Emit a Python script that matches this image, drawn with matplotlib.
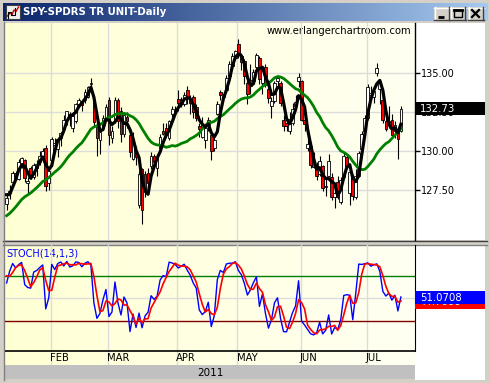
import numpy as np
import pandas as pd
import matplotlib
matplotlib.use('Agg')
import matplotlib.pyplot as plt
import matplotlib.transforms as mtransforms
from matplotlib.patches import Rectangle
from matplotlib.colors import LinearSegmentedColormap

# sessions before the visible window (Dec 13 - Jan 7), only used for the indicators
warm_open = [124.6, 124.5, 124.6, 124.0, 124.4, 124.8, 125.1, 125.6, 125.7, 125.2,
             125.8, 125.9, 125.8, 125.5, 126.7, 127.3, 126.6, 127.6, 127.6]
warm_high = [125.0, 125.0, 125.0, 124.7, 124.7, 125.0, 125.6, 125.9, 125.8, 125.8,
             125.9, 126.1, 126.0, 125.9, 127.6, 127.4, 127.7, 127.8, 127.8]
warm_low = [124.4, 124.3, 123.9, 123.8, 124.2, 124.2, 125.0, 125.5, 125.4, 125.1,
            125.6, 125.8, 125.6, 125.3, 126.4, 126.4, 126.5, 127.2, 126.2]
warm_close = [124.48, 124.66, 124.02, 124.54, 124.63, 124.82, 125.58, 125.88, 125.65, 125.71,
              125.81, 125.92, 125.72, 125.75, 127.05, 126.98, 127.64, 127.39, 127.14]

# visible sessions Jan 10 - Jul 19 2011
holidays = ['2011-01-17', '2011-02-21', '2011-04-22', '2011-05-30', '2011-07-04']
dates = pd.bdate_range('2011-01-10', '2011-07-19', freq='C', holidays=holidays)

opens = [
    126.6, 127.3, 128.0, 128.6, 128.2, 129.2, 129.4, 127.9, 128.9, 128.3, 128.9, 129.3, 129.7, 130.2, 127.95,
    129.4, 130.35, 130.1, 130.8, 131.4, 132.0, 132.4, 131.5, 131.9, 133.0, 133.2, 133.3, 133.5, 134.3, 133.2, 131.7, 130.7, 131.5, 132.2,
    133.3, 130.8, 131.9, 133.3, 132.6, 131.1, 132.2, 131.0, 129.5, 130.0, 126.5, 128.8, 128.5, 128.6, 129.0, 129.7, 128.9, 130.2, 131.3, 131.5, 130.8, 132.4, 132.6,
    133.35, 133.0, 133.0, 133.9, 133.3, 133.5, 132.8, 131.6, 130.9, 130.7, 131.7, 131.0, 130.2, 132.4, 133.8, 133.5, 133.9, 134.8, 135.5, 136.0,
    136.9, 136.1, 135.8, 134.4, 134.6, 134.5, 135.4, 136.0, 134.4, 135.4, 134.0, 132.9, 133.2, 134.5, 134.4, 132.0, 131.8, 131.3, 131.8, 132.9, 134.5,
    134.5, 132.0, 130.2, 130.3, 129.3, 128.8, 128.5, 129.0, 127.7, 128.4, 128.3, 127.0, 128.0, 126.7, 128.3, 129.6, 127.3, 128.3, 127.0, 128.4, 130.1, 131.3,
    132.1, 133.6, 133.5, 135.0, 134.0, 133.3, 131.9, 131.9, 132.0, 131.3, 131.2, 131.3]
highs = [
    127.2, 127.8, 128.7, 128.7, 129.5, 129.6, 129.5, 128.3, 129.0, 129.2, 129.4, 130.0, 130.2, 130.4, 128.8,
    130.9, 130.8, 130.9, 131.2, 132.3, 132.6, 132.5, 132.5, 133.1, 133.4, 133.3, 134.0, 134.2, 134.7, 133.3, 131.8, 131.4, 132.3, 133.0,
    133.5, 131.6, 133.5, 133.4, 132.8, 132.5, 132.5, 131.1, 131.2, 130.3, 128.7, 128.9, 128.7, 128.9, 129.9, 129.8, 129.8, 131.1, 131.8, 131.8, 132.0, 132.9, 132.9,
    133.9, 133.5, 133.8, 134.2, 133.6, 133.6, 133.0, 131.8, 132.2, 131.6, 132.2, 131.2, 130.9, 133.2, 133.9, 133.7, 134.9, 135.8, 136.3, 136.5,
    137.2, 136.3, 135.9, 135.0, 135.6, 135.3, 136.3, 136.1, 135.5, 135.6, 134.4, 133.5, 134.5, 134.9, 134.5, 132.3, 132.2, 132.5, 133.1, 133.6, 135.0,
    134.6, 132.6, 131.2, 130.6, 129.9, 129.3, 129.7, 129.1, 128.3, 129.8, 128.6, 127.9, 128.4, 128.3, 129.9, 129.8, 128.9, 128.5, 128.8, 130.0, 131.3, 132.3,
    134.3, 134.2, 134.1, 135.7, 134.5, 133.5, 132.6, 132.9, 132.4, 131.9, 131.3, 132.9]
lows = [
    126.2, 126.9, 127.8, 128.1, 128.1, 128.9, 128.0, 127.3, 128.2, 128.2, 128.4, 129.1, 129.5, 127.4, 127.5,
    129.2, 130.2, 129.6, 130.3, 131.3, 131.7, 131.6, 131.2, 131.8, 132.9, 132.6, 133.1, 133.4, 134.0, 131.6, 129.7, 129.8, 131.4, 132.1,
    130.4, 130.5, 131.8, 131.5, 130.6, 130.9, 131.5, 129.6, 129.4, 129.1, 126.3, 125.3, 127.0, 127.6, 128.8, 129.1, 128.4, 129.9, 131.0, 130.9, 130.7, 132.2, 132.4,
    132.6, 132.8, 132.9, 133.0, 132.4, 132.1, 131.9, 130.9, 130.8, 130.2, 131.3, 129.4, 130.0, 132.3, 133.3, 133.2, 133.8, 134.5, 135.3, 135.9,
    136.0, 135.2, 134.3, 133.0, 133.7, 134.3, 135.3, 134.3, 133.7, 134.1, 133.1, 132.1, 133.1, 134.1, 132.9, 131.3, 131.3, 131.1, 131.7, 132.7, 134.1,
    131.9, 131.3, 130.0, 128.9, 128.9, 128.1, 128.4, 127.4, 127.1, 128.3, 126.8, 126.3, 126.9, 126.6, 128.2, 128.9, 126.5, 126.8, 126.9, 128.3, 129.9, 131.2,
    132.0, 133.4, 133.1, 134.8, 133.0, 131.8, 131.3, 131.5, 130.9, 130.8, 129.5, 131.2]
closes = [
    126.98, 127.43, 128.58, 128.37, 129.30, 129.52, 128.25, 128.08, 128.37, 129.10, 129.17, 129.67, 129.99, 127.72, 128.68,
    130.74, 130.49, 130.78, 131.15, 131.97, 132.57, 132.18, 132.27, 133.03, 133.28, 132.94, 133.80, 134.13, 134.40, 131.85, 130.80, 131.20, 132.10, 132.80,
    131.00, 131.30, 133.30, 131.90, 131.10, 132.30, 131.90, 129.90, 130.60, 129.60, 128.50, 126.20, 127.50, 127.90, 129.70, 129.30, 129.60, 130.90, 131.10, 131.00, 131.90, 132.70, 132.55,
    133.10, 133.30, 133.60, 133.40, 133.10, 132.50, 132.10, 131.40, 131.70, 131.50, 132.00, 130.00, 130.70, 133.00, 133.60, 133.46, 134.68, 135.61, 136.10, 136.43,
    136.22, 135.76, 134.86, 133.66, 134.20, 135.12, 136.17, 134.66, 135.36, 134.26, 133.44, 133.21, 134.36, 134.70, 133.10, 131.59, 131.58, 132.06, 132.73, 133.18, 134.78,
    131.99, 131.76, 130.44, 129.08, 128.99, 128.40, 129.36, 127.61, 127.70, 129.32, 127.02, 127.30, 127.05, 128.09, 129.70, 129.00, 128.63, 127.08, 128.35, 129.85, 131.07, 132.09,
    134.10, 133.75, 133.89, 135.35, 134.40, 131.97, 131.40, 131.77, 131.05, 131.68, 130.77, 132.73]

price_ticks = [127.5, 130.0, 132.5, 135.0]
month_names = ['FEB', 'MAR', 'APR', 'MAY', 'JUN', 'JUL']
stoch_k_label = '51.0708'
stoch_k_last = 51.0708
stoch_d_last = 44.7

# indicators
df = pd.DataFrame({
    'open': warm_open + opens, 'high': warm_high + highs,
    'low': warm_low + lows, 'close': warm_close + closes})
df['ma3'] = df['close'].rolling(3).mean()
df['ma20'] = df['close'].rolling(20).mean()
hh = df['high'].rolling(14).max()
ll = df['low'].rolling(14).min()
df['k'] = 100 * (df['close'] - ll) / (hh - ll)
df['d'] = df['k'].rolling(3).mean()
df = df.iloc[len(warm_close):].reset_index(drop=True)
n = len(df)
x = np.arange(n)

W, H = 490, 383
fig = plt.figure(figsize=(W / 100, H / 100), dpi=100, facecolor='#d4d0c8')


def px_box(left, top, right, bottom):
    return [left / W, 1 - bottom / H, (right - left) / W, (bottom - top) / H]


# window chrome drawn in pixel units
chrome = fig.add_axes([0, 0, 1, 1])
chrome.axis('off')
panel_cmap = LinearSegmentedColormap.from_list('panel', ['#ffffd4', '#fffff2'])
chrome.imshow(np.linspace(0, 1, 256)[None, :], cmap=panel_cmap, aspect='auto',
              extent=[4.5, 415, 365, 23], zorder=0)
chrome.add_patch(Rectangle((415, 23), 70, 357, facecolor='white', edgecolor='none', zorder=0))
chrome.add_patch(Rectangle((3, 240), 484, 5, facecolor='#d4d0c8', edgecolor='none', zorder=1))
chrome.plot([3, 487], [240.5, 240.5], color='#404040', lw=1, zorder=2)
chrome.plot([3, 487], [244.5, 244.5], color='#808080', lw=1, zorder=2)
chrome.plot([3.5, 3.5], [22, 380], color='#808080', lw=1, zorder=2)
chrome.add_patch(Rectangle((5, 365), 410, 14, facecolor='#c0c0c0', edgecolor='none', zorder=1))
chrome.text(210, 372.5, '2011', fontsize=7.5, ha='center', va='center', color='black')

title_cmap = LinearSegmentedColormap.from_list('title', ['#0a246a', '#a6caf0'])
chrome.imshow(np.linspace(0, 1, 256)[None, :], cmap=title_cmap, aspect='auto',
              extent=[3, 487, 21, 3], zorder=1)
chrome.text(23, 12.3, 'SPY-SPDRS TR UNIT-Daily', fontsize=7.3, fontweight='bold',
            color='white', ha='left', va='center', zorder=3)

# little chart icon
chrome.add_patch(Rectangle((6, 5), 14, 14, facecolor='#f0f0f0', edgecolor='#404040', lw=0.8, zorder=3))
chrome.plot([7.5, 10, 12, 14, 16, 18.5], [16, 13, 14.5, 10, 11.5, 7], color='#cc0000', lw=1, zorder=4)
chrome.plot([8, 8, 11, 11, 15, 15], [17.5, 12, 12, 15, 15, 8], color='black', lw=0.8, zorder=4)

# window buttons
for bx, glyph in [(434, 'min'), (450, 'max'), (468, 'close')]:
    chrome.add_patch(Rectangle((bx, 7), 15.5, 13, facecolor='#d4d0c8', edgecolor='none', zorder=3))
    chrome.plot([bx, bx + 15.5], [7.5, 7.5], color='white', lw=1, zorder=4)
    chrome.plot([bx + 0.5, bx + 0.5], [7, 20], color='white', lw=1, zorder=4)
    chrome.plot([bx, bx + 15.5], [19.5, 19.5], color='#404040', lw=1, zorder=4)
    chrome.plot([bx + 15, bx + 15], [7, 20], color='#404040', lw=1, zorder=4)
    if glyph == 'min':
        chrome.plot([bx + 4, bx + 10], [16.5, 16.5], color='black', lw=2, zorder=5, solid_capstyle='butt')
    elif glyph == 'max':
        chrome.add_patch(Rectangle((bx + 3.5, 9.5), 8.5, 7.5, facecolor='none', edgecolor='black', lw=1, zorder=5))
        chrome.plot([bx + 3.5, bx + 12], [10, 10], color='black', lw=2, zorder=5)
    else:
        chrome.plot([bx + 4, bx + 11], [10, 17], color='black', lw=1.6, zorder=5)
        chrome.plot([bx + 4, bx + 11], [17, 10], color='black', lw=1.6, zorder=5)

chrome.text(267, 30.5, 'www.erlangerchartroom.com', fontsize=7.2, color='black',
            ha='left', va='center', zorder=3)
chrome.text(6.5, 253, 'STOCH(14,1,3)', fontsize=7, color='#0000ff', ha='left', va='center', zorder=3)
chrome.set_xlim(0, W)
chrome.set_ylim(H, 0)

# price panel
month_pos = [i for i in range(1, n) if dates[i].month != dates[i - 1].month]

ax = fig.add_axes(px_box(4.5, 23, 415, 240))
ax.set_facecolor('none')
ax.set_xlim(-0.7, 135.68)
ax.set_ylim(124.25, 138.25)
for p in month_pos:
    ax.axvline(p - 0.3, color='#dcdcdc', lw=1, zorder=1)
for t in price_ticks:
    ax.axhline(t, color='#dcdcdc', lw=1, zorder=1)

body_low = np.minimum(df['open'], df['close'])
body_h = np.maximum(np.abs(df['close'] - df['open']), 0.06)
colors = ['white' if c >= o else '#ff0000' for o, c in zip(df['open'], df['close'])]
ax.vlines(x, df['low'], df['high'], color='black', lw=0.8, zorder=2)
ax.bar(x, body_h, bottom=body_low, width=0.9, color=colors, edgecolor='black',
       linewidth=0.6, zorder=3)
ax.plot(x, df['ma20'], color='#008000', lw=2.0, zorder=4)
ax.plot(x, df['ma3'], color='black', lw=2.3, zorder=5)

ax.yaxis.tick_right()
ax.set_yticks(price_ticks)
ax.set_yticklabels([f'{t:.2f}' for t in price_ticks])
ax.tick_params(axis='y', length=3.5, width=1, pad=1.0, labelsize=7, colors='black')
ax.set_xticks([])
for side in ['top', 'left', 'bottom']:
    ax.spines[side].set_visible(False)
ax.spines['right'].set_color('black')
ax.spines['right'].set_linewidth(1)

trans = mtransforms.blended_transform_factory(ax.transAxes, ax.transData)
last = closes[-1]
ax.add_patch(Rectangle((1.0, last - 0.43), 0.171, 0.86, transform=trans, facecolor='black',
                       edgecolor='none', clip_on=False, zorder=10))
ax.text(1.012, last, f'{last:.2f}', transform=trans, color='white', fontsize=7.3,
        va='center', ha='left', clip_on=False, zorder=11)

# stochastic panel (its lower strip holds the month names)
ax2 = fig.add_axes(px_box(4.5, 245, 415, 365))
ax2.set_facecolor('none')
ax2.set_xlim(-0.7, 135.68)
ax2.set_ylim(-38.67, 121.33)
for p in month_pos:
    ax2.axvline(p - 0.3, color='#dcdcdc', lw=1, zorder=1)
ax2.axhline(50, color='#dcdcdc', lw=1, zorder=1)
ax2.axhline(80, color='#008000', lw=1, zorder=2)
ax2.axhline(20, color='#800000', lw=1, zorder=2)
ax2.axhline(-20, color='black', lw=1.2, zorder=3)
ax2.plot(x, df['k'], color='#0000ff', lw=1.0, zorder=4)
ax2.plot(x, df['d'], color='#ff0000', lw=1.2, zorder=5)
for p, name in zip(month_pos, month_names):
    ax2.text(p - 0.6, -29.5, name, fontsize=7.2, ha='left', va='center', color='black')

ax2.set_xticks([])
ax2.set_yticks([])
for side in ['top', 'left', 'bottom']:
    ax2.spines[side].set_visible(False)
ax2.spines['right'].set_color('black')
ax2.spines['right'].set_bounds(-20, 121.33)

trans2 = mtransforms.blended_transform_factory(ax2.transAxes, ax2.transData)
ax2.add_patch(Rectangle((1.0, stoch_d_last - 8.4), 0.171, 16.8, transform=trans2,
                        facecolor='#ff0000', edgecolor='none', clip_on=False, zorder=10))
ax2.text(1.012, stoch_d_last, f'{stoch_d_last:.4f}', transform=trans2, color='white',
         fontsize=7.3, va='center', ha='left', clip_on=False, zorder=11)
ax2.add_patch(Rectangle((1.0, stoch_k_last - 8.4), 0.171, 16.8, transform=trans2,
                        facecolor='#0000ff', edgecolor='none', clip_on=False, zorder=12))
ax2.text(1.012, stoch_k_last, stoch_k_label, transform=trans2, color='white',
         fontsize=7.3, va='center', ha='left', clip_on=False, zorder=13)

fig.savefig('out.png', dpi=100, facecolor=fig.get_facecolor())
